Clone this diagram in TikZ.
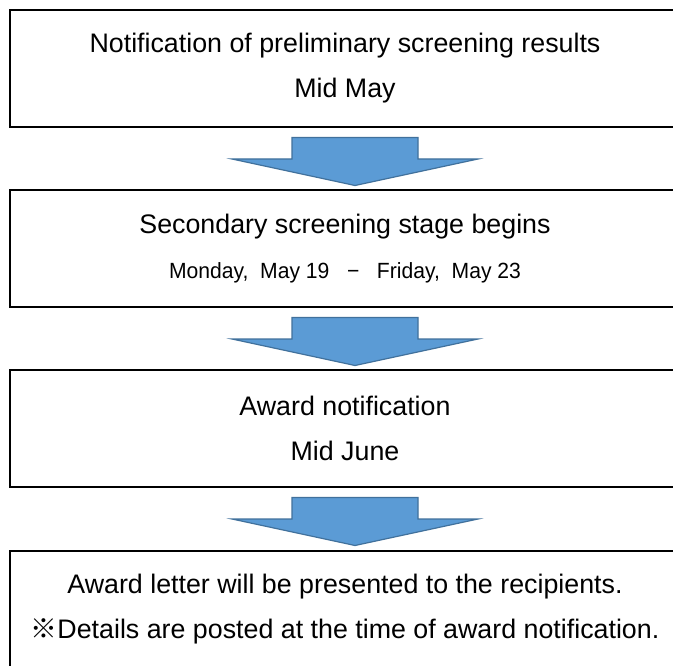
\documentclass[tikz,border=0pt]{standalone}
\usepackage{fontspec}
\setmainfont{Liberation Sans}
\newfontfamily\cjkfont{Noto Sans CJK JP}
\begin{document}
\begin{tikzpicture}[x=1pt,y=-1pt,
  stagebox/.style={draw=black,line width=2pt,fill=white,minimum width=670pt,minimum height=117pt,
    inner sep=0pt,align=center,font=\fontsize{26.8}{45}\selectfont},
  arrowstyle/.style={fill=arrowfill,draw=arrowedge,line width=1.2pt,line join=miter},
  downarrow/.pic={\draw[arrowstyle] (-63,-24) -- (63,-24) -- (63,-2.5) -- (123,-2.5) -- (0,24) -- (-123,-2.5) -- (-63,-2.5) -- cycle;}
]
\definecolor{arrowfill}{HTML}{5B9BD5}
\definecolor{arrowedge}{HTML}{41719C}
\useasboundingbox (0,0) rectangle (673,666);
\clip (0,0) rectangle (673,666);
\fill[white] (0,0) rectangle (673,666);
\node[stagebox] (s1) at (345,68.5) {Notification of preliminary screening results\\Mid May};
\node[stagebox] (s2) at (345,248.5) {Secondary screening stage begins\\{\fontsize{22}{26}\selectfont\scalebox{0.96}[1]{Monday,\ \ May 19\ \ \ −\ \ \ Friday,\ \ May 23}}};
\node[stagebox] (s3) at (345,428.5) {Award notification\\Mid June};
\node[stagebox] (s4) at (345,609.5) {Award letter will be presented to the recipients.\\{\cjkfont ※}Details are posted at the time of award notification.};
\coordinate (a1) at (355,161.5);
\coordinate (a2) at (355,341.5);
\coordinate (a3) at (355,521.5);
\pic at (a1) {downarrow};
\pic at (a2) {downarrow};
\pic at (a3) {downarrow};
\end{tikzpicture}
\end{document}
